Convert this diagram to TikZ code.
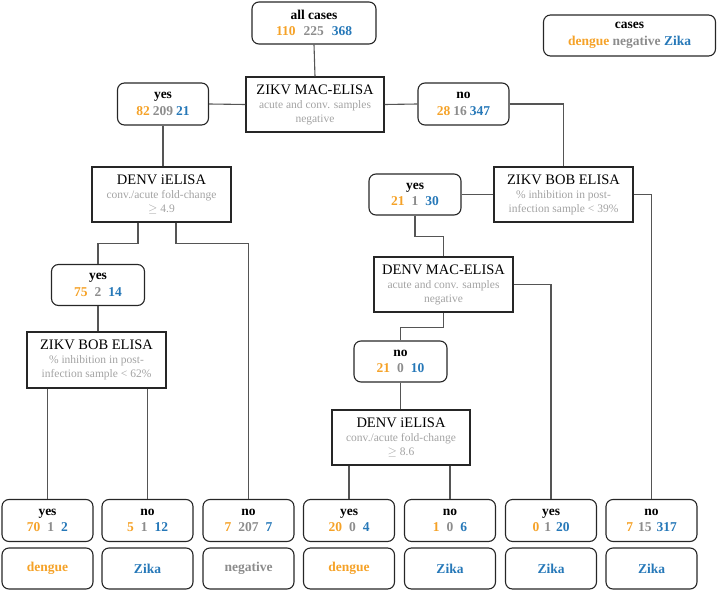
\documentclass[tikz,border=0pt]{standalone}
\usepackage{fontspec}
\setmainfont{Liberation Serif}
\usetikzlibrary{calc}
\definecolor{cD}{HTML}{F5A228}
\definecolor{cN}{HTML}{8C8C8C}
\definecolor{cZ}{HTML}{2678B8}
\definecolor{cSub}{HTML}{A3A3A3}
\definecolor{cLine}{HTML}{555555}
\definecolor{cBox}{HTML}{262626}
\newcommand{\cnts}[4][5pt]{{\color{cD}#2}\hspace{#1}{\color{cN}#3}\hspace{#1}{\color{cZ}#4}}
\newcommand{\ttl}[1]{{\fontsize{14.5}{16}\selectfont #1}}
\begin{document}
\begin{tikzpicture}[x=1pt,y=-1pt,
 res/.style={draw=cBox, line width=1.1pt, rounded corners=7pt, minimum width=91pt, minimum height=42pt, inner sep=0pt, align=center, font=\fontsize{13.5}{16.5}\selectfont\bfseries},
 outc/.style={res, minimum height=41pt},
 test/.style={draw=cBox, line width=1.1pt, minimum width=139pt, minimum height=55pt, inner sep=0pt, align=center, font=\fontsize{11.5}{14}\selectfont\color{cSub}},
 conn/.style={draw=cLine, line width=1.1pt}]
\useasboundingbox (0,0) rectangle (717,591);

% top
\node[res, minimum width=124pt] (allc) at (314,23) {all cases\\\cnts[8pt]{110}{225}{368}};
\node[res, minimum width=172pt, minimum height=41pt] (leg) at (629.5,35.5) {cases\\{\color{cD}dengue} {\color{cN}negative} {\color{cZ}Zika}};
\node[test, minimum width=138pt] (mac) at (315,104.5) {\ttl{\color{black}ZIKV MAC-ELISA}\\acute and conv. samples\\negative};
\node[res] (yesT) at (163,104) {yes\\\cnts[3pt]{82}{209}{21}};
\node[res] (noT) at (463.5,104) {no\\\cnts[3pt]{28}{16}{347}};

% left branch
\node[test] (diL) at (161.5,194.5) {\ttl{\color{black}DENV iELISA}\\conv./acute fold-change\\$\geq$ 4.9};
\node[res, minimum width=93pt, minimum height=41pt] (yesL2) at (98,285) {yes\\\cnts[7pt]{75}{2}{14}};
\node[test, minimum height=56pt] (bobL) at (96.5,360) {\ttl{\color{black}ZIKV BOB ELISA}\\\% inhibition in post-\\infection sample < 62\%};

% right branch
\node[test] (bobR) at (563.5,194.5) {\ttl{\color{black}ZIKV BOB ELISA}\\\% inhibition in post-\\infection sample < 39\%};
\node[res, minimum width=92pt, minimum height=41pt] (yesR) at (415,194.5) {yes\\\cnts[7pt]{21}{1}{30}};
\node[test] (dmac) at (443.5,284.5) {\ttl{\color{black}DENV MAC-ELISA}\\acute and conv. samples\\negative};
\node[res, minimum width=93pt, minimum height=41pt] (noR2) at (400.5,361.5) {no\\\cnts[7pt]{21}{0}{10}};
\node[test, minimum width=138pt] (diR) at (401,437.5) {\ttl{\color{black}DENV iELISA}\\conv./acute fold-change\\$\geq$ 8.6};

% bottom results
\node[res] (b1) at (47.5,520.5) {yes\\\cnts[7pt]{70}{1}{2}};
\node[res] (b2) at (147.5,520.5) {no\\\cnts[7pt]{5}{1}{12}};
\node[res] (b3) at (248.5,520.5) {no\\\cnts[7pt]{7}{207}{7}};
\node[res] (b4) at (349,520.5) {yes\\\cnts[7pt]{20}{0}{4}};
\node[res] (b5) at (450,520.5) {no\\\cnts[7pt]{1}{0}{6}};
\node[res] (b6) at (551,520.5) {yes\\\cnts[5pt]{0}{1}{20}};
\node[res] (b7) at (651.5,520.5) {no\\\cnts[5pt]{7}{15}{317}};

\node[outc, text=cD] (o1) at (47.5,568.5) {dengue};
\node[outc, text=cZ] (o2) at (147.5,568.5) {Zika};
\node[outc, text=cN] (o3) at (248.5,568.5) {negative};
\node[outc, text=cD] (o4) at (349,568.5) {dengue};
\node[outc, text=cZ] (o5) at (450,568.5) {Zika};
\node[outc, text=cZ] (o6) at (551,568.5) {Zika};
\node[outc, text=cZ] (o7) at (651.5,568.5) {Zika};

% connectors
\draw[conn] (allc.south) -- (mac.north);
\draw[conn] (mac.west) -- (yesT.east);
\draw[conn] (mac.east) -- (noT.west);
\draw[conn] (yesT.south) -- (yesT.south |- diL.north);
\draw[conn] (noT.east) -| (bobR.north);
\draw[conn] (bobR.west) -- (yesR.east);
\draw[conn] (bobR.east) -| (b7.north);
\draw[conn] (yesR.south) -- ++(0,21) -| (dmac.north);
\draw[conn] (dmac.east) -| (b6.north);
\draw[conn] (dmac.south) -- ++(0,15) -| (noR2.north);
\draw[conn] (noR2.south) -- (noR2.south |- diR.north);
\draw[conn] (b4.north |- diR.south) -- (b4.north);
\draw[conn] (b5.north |- diR.south) -- (b5.north);
\draw[conn] ([xshift=-23.5pt]diL.south) -- ++(0,21) -| (yesL2.north);
\draw[conn] ([xshift=14.5pt]diL.south) -- ++(0,21) -| (b3.north);
\draw[conn] (yesL2.south) -- (yesL2.south |- bobL.north);
\draw[conn] (b1.north |- bobL.south) -- (b1.north);
\draw[conn] (b2.north |- bobL.south) -- (b2.north);
\end{tikzpicture}
\end{document}
